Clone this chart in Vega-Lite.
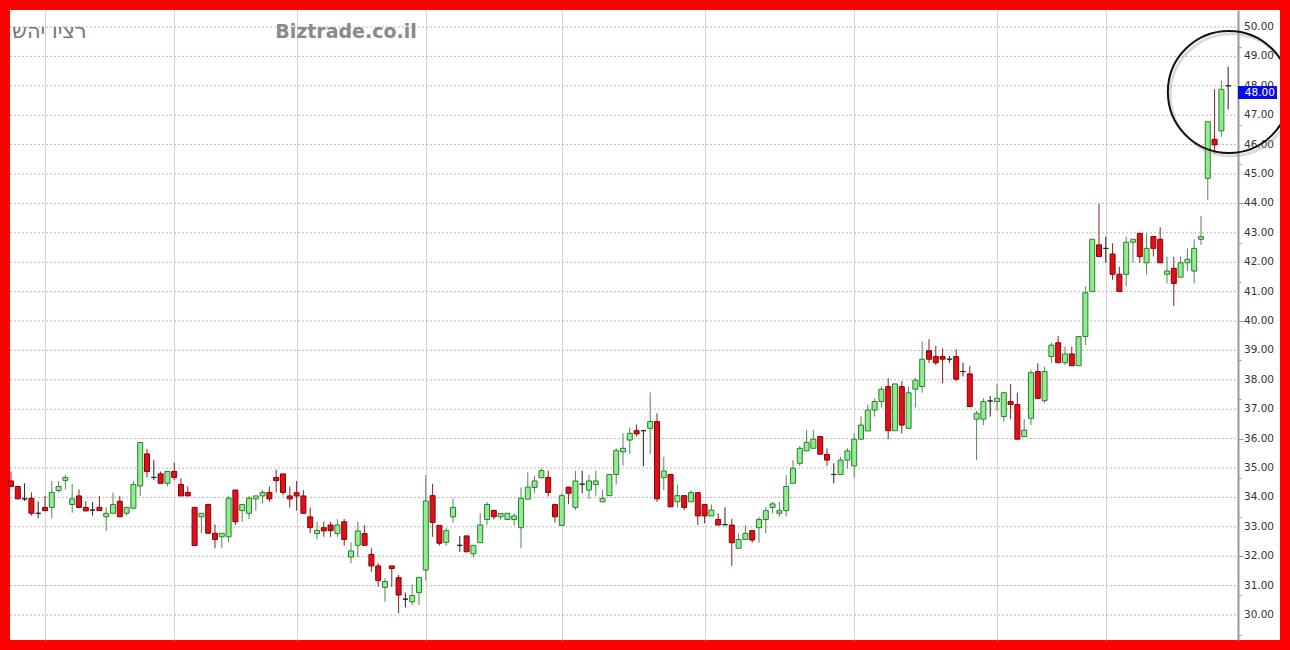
{
  "$schema": "https://vega.github.io/schema/vega-lite/v6.json",
  "width": 1270,
  "height": 630,
  "padding": 10,
  "autosize": {"type": "none"},
  "background": "#ff0000",
  "config": {"view": {"fill": "white", "stroke": null}},
  "datasets": {
    "candles": [
      {"i":1,"o":34.56,"h":34.88,"l":34.37,"c":34.37},
      {"i":2,"o":34.37,"h":34.40,"l":33.95,"c":33.95},
      {"i":3,"o":33.95,"h":34.48,"l":33.88,"c":33.95},
      {"i":4,"o":33.97,"h":34.17,"l":33.38,"c":33.46},
      {"i":5,"o":33.46,"h":33.86,"l":33.29,"c":33.46},
      {"i":6,"o":33.66,"h":34.05,"l":33.55,"c":33.55},
      {"i":7,"o":33.66,"h":34.56,"l":33.29,"c":34.17},
      {"i":8,"o":34.23,"h":34.56,"l":34.17,"c":34.37},
      {"i":9,"o":34.58,"h":34.76,"l":34.27,"c":34.68},
      {"i":10,"o":33.76,"h":34.46,"l":33.48,"c":33.95},
      {"i":11,"o":34.05,"h":34.27,"l":33.66,"c":33.66},
      {"i":12,"o":33.66,"h":33.87,"l":33.54,"c":33.54},
      {"i":13,"o":33.57,"h":33.85,"l":33.38,"c":33.57},
      {"i":14,"o":33.66,"h":34.05,"l":33.55,"c":33.55},
      {"i":15,"o":33.34,"h":33.66,"l":32.86,"c":33.46},
      {"i":16,"o":33.46,"h":34.17,"l":33.46,"c":33.76},
      {"i":17,"o":33.87,"h":34.05,"l":33.34,"c":33.34},
      {"i":18,"o":33.46,"h":33.66,"l":33.38,"c":33.66},
      {"i":19,"o":33.63,"h":34.56,"l":33.63,"c":34.44},
      {"i":20,"o":34.39,"h":35.87,"l":34.05,"c":35.87},
      {"i":21,"o":35.48,"h":35.65,"l":34.68,"c":34.88},
      {"i":22,"o":34.68,"h":35.27,"l":34.59,"c":34.68},
      {"i":23,"o":34.80,"h":34.88,"l":34.48,"c":34.48},
      {"i":24,"o":34.48,"h":34.88,"l":34.37,"c":34.88},
      {"i":25,"o":34.88,"h":35.18,"l":34.59,"c":34.68},
      {"i":26,"o":34.44,"h":34.65,"l":34.05,"c":34.05},
      {"i":27,"o":34.17,"h":34.37,"l":34.05,"c":34.05},
      {"i":28,"o":33.66,"h":33.66,"l":32.36,"c":32.36},
      {"i":29,"o":33.34,"h":33.46,"l":32.78,"c":33.46},
      {"i":30,"o":33.76,"h":33.76,"l":32.78,"c":32.78},
      {"i":31,"o":32.78,"h":33.08,"l":32.27,"c":32.57},
      {"i":32,"o":32.66,"h":32.78,"l":32.27,"c":32.78},
      {"i":33,"o":32.66,"h":34.05,"l":32.47,"c":33.97},
      {"i":34,"o":34.25,"h":34.25,"l":33.06,"c":33.17},
      {"i":35,"o":33.55,"h":33.76,"l":33.17,"c":33.76},
      {"i":36,"o":33.46,"h":34.05,"l":33.26,"c":33.97},
      {"i":37,"o":33.95,"h":34.05,"l":33.55,"c":34.05},
      {"i":38,"o":34.05,"h":34.25,"l":33.80,"c":34.17},
      {"i":39,"o":34.17,"h":34.37,"l":33.85,"c":33.95},
      {"i":40,"o":34.68,"h":34.95,"l":34.17,"c":34.57},
      {"i":41,"o":34.80,"h":34.80,"l":34.08,"c":34.17},
      {"i":42,"o":34.05,"h":34.37,"l":33.66,"c":33.95},
      {"i":43,"o":34.16,"h":34.56,"l":33.55,"c":34.05},
      {"i":44,"o":34.05,"h":34.25,"l":33.46,"c":33.46},
      {"i":45,"o":33.34,"h":33.66,"l":32.78,"c":32.97},
      {"i":46,"o":32.77,"h":33.17,"l":32.57,"c":32.88},
      {"i":47,"o":32.97,"h":33.17,"l":32.66,"c":32.86},
      {"i":48,"o":33.06,"h":33.17,"l":32.66,"c":32.87},
      {"i":49,"o":32.77,"h":33.26,"l":32.66,"c":33.06},
      {"i":50,"o":33.17,"h":33.26,"l":32.36,"c":32.57},
      {"i":51,"o":31.97,"h":32.47,"l":31.76,"c":32.18},
      {"i":52,"o":32.37,"h":33.17,"l":31.97,"c":32.86},
      {"i":53,"o":32.77,"h":33.06,"l":32.37,"c":32.37},
      {"i":54,"o":32.06,"h":32.27,"l":31.47,"c":31.67},
      {"i":55,"o":31.67,"h":31.76,"l":30.96,"c":31.17},
      {"i":56,"o":30.94,"h":31.25,"l":30.45,"c":31.14},
      {"i":57,"o":31.67,"h":31.67,"l":30.96,"c":31.58},
      {"i":58,"o":31.27,"h":31.36,"l":30.06,"c":30.68},
      {"i":59,"o":30.54,"h":30.76,"l":30.26,"c":30.54},
      {"i":60,"o":30.45,"h":31.04,"l":30.34,"c":30.66},
      {"i":61,"o":30.76,"h":31.28,"l":30.34,"c":31.28},
      {"i":62,"o":31.53,"h":34.76,"l":31.17,"c":33.88},
      {"i":63,"o":34.06,"h":34.46,"l":32.66,"c":33.15},
      {"i":64,"o":33.05,"h":33.05,"l":32.36,"c":32.44},
      {"i":65,"o":32.47,"h":32.97,"l":32.36,"c":32.87},
      {"i":66,"o":33.34,"h":33.97,"l":33.14,"c":33.66},
      {"i":67,"o":32.37,"h":32.69,"l":32.15,"c":32.37},
      {"i":68,"o":32.69,"h":32.69,"l":32.15,"c":32.15},
      {"i":69,"o":32.08,"h":32.37,"l":31.96,"c":32.37},
      {"i":70,"o":32.46,"h":33.46,"l":32.46,"c":33.06},
      {"i":71,"o":33.25,"h":33.85,"l":33.06,"c":33.76},
      {"i":72,"o":33.56,"h":33.56,"l":33.25,"c":33.34},
      {"i":73,"o":33.34,"h":33.45,"l":33.25,"c":33.45},
      {"i":74,"o":33.25,"h":33.46,"l":33.25,"c":33.46},
      {"i":75,"o":33.25,"h":33.46,"l":33.04,"c":33.37},
      {"i":76,"o":32.97,"h":34.34,"l":32.27,"c":33.97},
      {"i":77,"o":33.94,"h":34.85,"l":33.94,"c":34.35},
      {"i":78,"o":34.34,"h":34.74,"l":34.14,"c":34.56},
      {"i":79,"o":34.67,"h":34.99,"l":34.65,"c":34.91},
      {"i":80,"o":34.68,"h":34.91,"l":34.03,"c":34.17},
      {"i":81,"o":33.76,"h":33.76,"l":33.14,"c":33.34},
      {"i":82,"o":33.05,"h":34.14,"l":33.05,"c":34.06},
      {"i":83,"o":34.35,"h":34.35,"l":33.77,"c":34.14},
      {"i":84,"o":33.66,"h":34.91,"l":33.57,"c":34.56},
      {"i":85,"o":34.45,"h":34.91,"l":34.14,"c":34.45},
      {"i":86,"o":34.25,"h":34.76,"l":33.94,"c":34.56},
      {"i":87,"o":34.44,"h":34.91,"l":34.06,"c":34.56},
      {"i":88,"o":33.85,"h":34.25,"l":33.85,"c":33.97},
      {"i":89,"o":34.06,"h":34.78,"l":34.06,"c":34.78},
      {"i":90,"o":34.78,"h":35.67,"l":34.44,"c":35.59},
      {"i":91,"o":35.55,"h":36.18,"l":35.08,"c":35.67},
      {"i":92,"o":35.95,"h":36.38,"l":35.48,"c":36.18},
      {"i":93,"o":36.27,"h":36.48,"l":36.07,"c":36.16},
      {"i":94,"o":36.27,"h":36.29,"l":35.07,"c":36.27},
      {"i":95,"o":36.35,"h":37.57,"l":35.48,"c":36.58},
      {"i":96,"o":36.58,"h":36.86,"l":33.85,"c":33.95},
      {"i":97,"o":34.67,"h":35.38,"l":34.25,"c":34.90},
      {"i":98,"o":34.78,"h":34.78,"l":33.68,"c":33.68},
      {"i":99,"o":33.85,"h":34.44,"l":33.65,"c":34.06},
      {"i":100,"o":34.06,"h":34.06,"l":33.57,"c":33.66},
      {"i":101,"o":33.85,"h":34.25,"l":33.85,"c":34.16},
      {"i":102,"o":34.16,"h":34.16,"l":33.06,"c":33.37},
      {"i":103,"o":33.76,"h":33.76,"l":33.12,"c":33.37},
      {"i":104,"o":33.37,"h":33.76,"l":33.37,"c":33.57},
      {"i":105,"o":33.25,"h":33.46,"l":33.06,"c":33.06},
      {"i":106,"o":33.07,"h":33.66,"l":33.06,"c":33.07},
      {"i":107,"o":33.06,"h":33.27,"l":31.67,"c":32.46},
      {"i":108,"o":32.27,"h":32.78,"l":32.27,"c":32.57},
      {"i":109,"o":32.57,"h":33.06,"l":32.57,"c":32.78},
      {"i":110,"o":32.87,"h":32.87,"l":32.46,"c":32.55},
      {"i":111,"o":32.97,"h":33.34,"l":32.46,"c":33.25},
      {"i":112,"o":33.25,"h":33.66,"l":32.78,"c":33.55},
      {"i":113,"o":33.66,"h":33.85,"l":33.46,"c":33.78},
      {"i":114,"o":33.46,"h":33.85,"l":33.35,"c":33.55},
      {"i":115,"o":33.55,"h":34.76,"l":33.35,"c":34.37},
      {"i":116,"o":34.48,"h":35.27,"l":34.48,"c":34.99},
      {"i":117,"o":35.16,"h":35.75,"l":35.07,"c":35.67},
      {"i":118,"o":35.58,"h":36.29,"l":35.58,"c":35.87},
      {"i":119,"o":35.67,"h":36.29,"l":35.67,"c":35.98},
      {"i":120,"o":36.07,"h":36.07,"l":35.47,"c":35.47},
      {"i":121,"o":35.46,"h":35.67,"l":35.07,"c":35.27},
      {"i":122,"o":34.78,"h":35.16,"l":34.48,"c":34.78},
      {"i":123,"o":34.78,"h":35.38,"l":34.78,"c":35.27},
      {"i":124,"o":35.27,"h":35.67,"l":34.99,"c":35.58},
      {"i":125,"o":35.07,"h":36.18,"l":34.68,"c":35.98},
      {"i":126,"o":35.98,"h":36.75,"l":35.98,"c":36.46},
      {"i":127,"o":36.26,"h":37.16,"l":36.26,"c":36.97},
      {"i":128,"o":36.97,"h":37.37,"l":36.75,"c":37.26},
      {"i":129,"o":37.26,"h":37.77,"l":37.06,"c":37.68},
      {"i":130,"o":37.77,"h":38.05,"l":35.98,"c":36.27},
      {"i":131,"o":36.27,"h":37.86,"l":36.27,"c":37.86},
      {"i":132,"o":37.77,"h":37.96,"l":36.18,"c":36.46},
      {"i":133,"o":36.35,"h":37.77,"l":36.35,"c":37.56},
      {"i":134,"o":37.68,"h":38.07,"l":37.06,"c":37.99},
      {"i":135,"o":37.77,"h":39.30,"l":37.56,"c":38.70},
      {"i":136,"o":38.99,"h":39.38,"l":38.58,"c":38.70},
      {"i":137,"o":38.79,"h":39.15,"l":38.50,"c":38.58},
      {"i":138,"o":38.79,"h":39.07,"l":37.88,"c":38.70},
      {"i":139,"o":38.70,"h":38.81,"l":38.58,"c":38.70},
      {"i":140,"o":38.79,"h":39.04,"l":37.96,"c":38.02},
      {"i":141,"o":38.28,"h":38.58,"l":38.11,"c":38.28},
      {"i":142,"o":38.20,"h":38.47,"l":37.09,"c":37.09},
      {"i":143,"o":36.66,"h":36.95,"l":35.27,"c":36.86},
      {"i":144,"o":36.66,"h":37.37,"l":36.46,"c":37.26},
      {"i":145,"o":37.28,"h":37.45,"l":36.75,"c":37.28},
      {"i":146,"o":37.26,"h":37.86,"l":36.95,"c":37.37},
      {"i":147,"o":36.75,"h":37.56,"l":36.58,"c":37.56},
      {"i":148,"o":37.26,"h":37.86,"l":36.66,"c":37.16},
      {"i":149,"o":37.16,"h":37.56,"l":35.98,"c":35.98},
      {"i":150,"o":36.07,"h":36.66,"l":36.07,"c":36.29},
      {"i":151,"o":36.69,"h":38.33,"l":36.46,"c":38.24},
      {"i":152,"o":38.28,"h":38.56,"l":37.37,"c":37.37},
      {"i":153,"o":37.29,"h":38.45,"l":37.20,"c":38.28},
      {"i":154,"o":38.79,"h":39.26,"l":38.58,"c":39.18},
      {"i":155,"o":39.26,"h":39.49,"l":38.58,"c":38.58},
      {"i":156,"o":38.58,"h":39.13,"l":38.50,"c":38.88},
      {"i":157,"o":38.88,"h":39.13,"l":38.48,"c":38.48},
      {"i":158,"o":38.48,"h":39.47,"l":38.48,"c":39.47},
      {"i":159,"o":39.47,"h":41.17,"l":39.18,"c":40.96},
      {"i":160,"o":41.00,"h":42.78,"l":41.00,"c":42.78},
      {"i":161,"o":42.59,"h":43.98,"l":42.19,"c":42.19},
      {"i":162,"o":42.47,"h":42.87,"l":41.98,"c":42.47},
      {"i":163,"o":42.28,"h":42.64,"l":41.40,"c":41.59},
      {"i":164,"o":41.59,"h":41.85,"l":41.00,"c":41.00},
      {"i":165,"o":41.59,"h":42.87,"l":41.19,"c":42.68},
      {"i":166,"o":42.68,"h":42.78,"l":41.98,"c":42.78},
      {"i":167,"o":42.98,"h":42.98,"l":41.98,"c":42.19},
      {"i":168,"o":41.98,"h":42.98,"l":41.59,"c":42.47},
      {"i":169,"o":42.87,"h":42.87,"l":42.19,"c":42.47},
      {"i":170,"o":42.78,"h":43.19,"l":41.98,"c":41.98},
      {"i":171,"o":41.59,"h":42.19,"l":41.28,"c":41.70},
      {"i":172,"o":41.79,"h":42.19,"l":40.51,"c":41.28},
      {"i":173,"o":41.49,"h":42.19,"l":41.49,"c":41.98},
      {"i":174,"o":41.98,"h":42.47,"l":41.70,"c":42.10},
      {"i":175,"o":41.70,"h":42.78,"l":41.28,"c":42.47},
      {"i":176,"o":42.78,"h":43.57,"l":42.59,"c":42.87},
      {"i":177,"o":44.85,"h":46.78,"l":44.12,"c":46.78},
      {"i":178,"o":46.18,"h":47.88,"l":45.70,"c":45.99},
      {"i":179,"o":46.47,"h":48.18,"l":46.27,"c":47.88},
      {"i":180,"o":48.00,"h":48.65,"l":47.20,"c":48.00}
    ],
    "levels": [
      {"v":30},{"v":31},{"v":32},{"v":33},{"v":34},{"v":35},{"v":36},{"v":37},{"v":38},{"v":39},{"v":40},
      {"v":41},{"v":42},{"v":43},{"v":44},{"v":45},{"v":46},{"v":47},{"v":48},{"v":49},{"v":50}
    ]
  },
  "layer": [
    {
      "data": {"name": "levels"},
      "mark": {"type": "rule", "color": "#b8b8b8", "strokeWidth": 1, "strokeDash": [2, 2]},
      "encoding": {
        "x": {"datum": 0.853, "type": "quantitative",
              "scale": {"domain": [0.853, 187.62], "nice": false, "zero": false, "padding": 0},
              "axis": {"values": [6, 25, 43, 62, 82, 103, 125, 146, 162], "grid": true, "gridColor": "#d4d4d4", "gridWidth": 1,
                       "labels": false, "ticks": false, "domain": false, "title": null}},
        "x2": {"datum": 181.44},
        "y": {"field": "v", "type": "quantitative",
              "scale": {"domain": [29.15, 50.578], "nice": false, "zero": false, "padding": 0},
              "axis": {"orient": "right", "offset": -42,
                       "values": [29.333,29.667,30,30.333,30.667,31,31.333,31.667,32,32.333,32.667,33,33.333,33.667,34,34.333,34.667,35,35.333,35.667,36,36.333,36.667,37,37.333,37.667,38,38.333,38.667,39,39.333,39.667,40,40.333,40.667,41,41.333,41.667,42,42.333,42.667,43,43.333,43.667,44,44.333,44.667,45,45.333,45.667,46,46.333,46.667,47,47.333,47.667,48,48.333,48.667,49,49.333,49.667,50,50.333],
                       "labels": false,
                       "grid": false, "title": null, "domainColor": "#999999", "domainWidth": 2,
                       "tickColor": "#999999",
                       "tickSize": {"condition": {"test": "abs(datum.value - round(datum.value)) < 0.01", "value": 5}, "value": 3},
                       "tickWidth": 1}}
      }
    },
    {
      "data": {"name": "levels"},
      "mark": {"type": "text", "font": "DejaVu Sans", "fontSize": 10.5, "fill": "#333333", "align": "left", "baseline": "middle"},
      "encoding": {
        "x": {"datum": 182.32},
        "y": {"field": "v", "type": "quantitative"},
        "text": {"field": "v", "type": "quantitative", "format": ".2f"}
      }
    },
    {
      "data": {"name": "candles"},
      "mark": {"type": "rule", "strokeWidth": 1},
      "encoding": {
        "x": {"field": "i", "type": "quantitative"},
        "y": {"field": "l", "type": "quantitative"},
        "y2": {"field": "h"},
        "color": {"condition": [{"test": "datum.c > datum.o", "value": "#4f8a4f"}, {"test": "datum.c < datum.o", "value": "#8a2020"}], "value": "#222222"}
      }
    },
    {
      "data": {"name": "candles"},
      "mark": {"type": "bar", "width": 5, "strokeWidth": 1},
      "encoding": {
        "x": {"field": "i", "type": "quantitative"},
        "y": {"field": "o", "type": "quantitative"},
        "y2": {"field": "c"},
        "fill": {"condition": [{"test": "datum.c > datum.o", "value": "#90ee90"}, {"test": "datum.c < datum.o", "value": "#e0101a"}], "value": "#222222"},
        "stroke": {"condition": [{"test": "datum.c > datum.o", "value": "#2e7d32"}, {"test": "datum.c < datum.o", "value": "#8b0000"}], "value": "#222222"}
      }
    },
    {
      "data": {"values": [{"label": "Biztrade.co.il"}]},
      "mark": {"type": "text", "font": "DejaVu Sans", "fontWeight": "bold", "fontSize": 19, "fill": "#8a8a8a", "align": "center", "baseline": "middle"},
      "encoding": {"x": {"datum": 50.26}, "y": {"datum": 49.83}, "text": {"field": "label"}}
    },
    {
      "data": {"values": [{"label": "רציו יהש"}]},
      "mark": {"type": "text", "font": "DejaVu Sans", "fontSize": 21, "fill": "#777777", "align": "left", "baseline": "middle"},
      "encoding": {"x": {"datum": 1.15}, "y": {"datum": 49.83}, "text": {"field": "label"}}
    },
    {
      "data": {"values": [{"label": "48.00"}]},
      "mark": {"type": "rect", "fill": "#0a0ae6"},
      "encoding": {"x": {"datum": 181.44}, "x2": {"datum": 187.18}, "y": {"datum": 47.99}, "y2": {"datum": 47.55}}
    },
    {
      "data": {"values": [{"label": "48.00"}]},
      "mark": {"type": "text", "font": "DejaVu Sans", "fontSize": 10.5, "fill": "white", "align": "left", "baseline": "middle"},
      "encoding": {"x": {"datum": 182.45}, "y": {"datum": 47.77}, "text": {"field": "label"}}
    },
    {
      "data": {"values": [{"label": "ring"}]},
      "mark": {"type": "point", "shape": "circle", "filled": false, "size": 14884, "stroke": "#9a9a9a", "strokeWidth": 3, "opacity": 0.35, "clip": true},
      "encoding": {"x": {"datum": 180.45}, "y": {"datum": 47.69}}
    },
    {
      "data": {"values": [{"label": "ring"}]},
      "mark": {"type": "point", "shape": "circle", "filled": false, "size": 14884, "stroke": "#111111", "strokeWidth": 2, "opacity": 1, "clip": true},
      "encoding": {"x": {"datum": 180.1}, "y": {"datum": 47.79}}
    }
  ]
}
